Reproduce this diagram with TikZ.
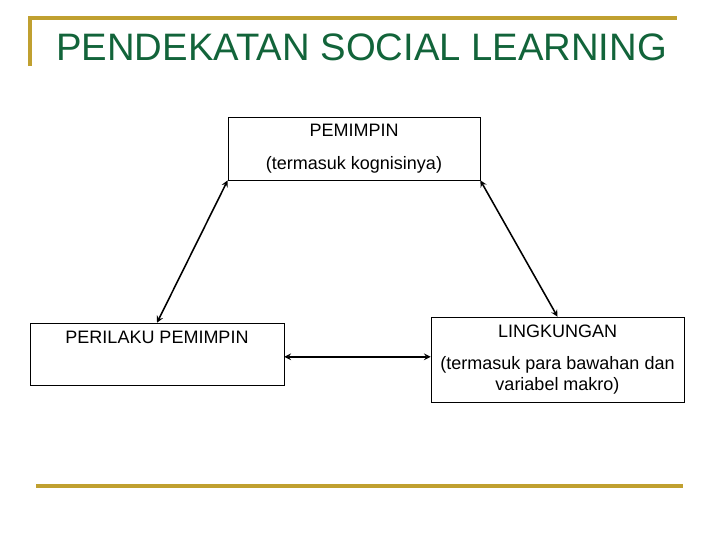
\documentclass[tikz,border=0pt]{standalone}
\usepackage{fontspec}
\setmainfont{Liberation Sans}
\usepackage{tikz}
\usetikzlibrary{arrows,positioning}

\definecolor{titlegreen}{RGB}{18,100,58}
\definecolor{rulegold}{RGB}{192,160,48}

\tikzset{box/.style={rectangle,draw,thin,align=center,inner sep=0pt,font=\fontsize{12.8}{14.6}\selectfont}}

\begin{document}
\begin{tikzpicture}[x=0.025cm,y=-0.025cm,>=stealth]
\useasboundingbox (0,0) rectangle (720,540);

% slide rules
\draw[rulegold,line width=2.2pt] (30,66) -- (30,18) -- (677,18);
\draw[rulegold,line width=2.2pt] (36,486) -- (683,486);

\node (title) [anchor=west,text=titlegreen,font=\fontsize{27.2}{30}\selectfont,inner sep=0pt] at (56,47) {PENDEKATAN SOCIAL LEARNING};

\node (lead) [box,minimum width=6.3cm,minimum height=1.575cm] at (354,148.5) {PEMIMPIN\\[9pt](termasuk kognisinya)};
\node (beh) [box,minimum width=6.35cm,minimum height=1.55cm] at (157,354) {PERILAKU PEMIMPIN\\[9pt]\mbox{}};
\node (env) [box,minimum width=6.325cm,minimum height=2.125cm] at (557.5,359.5) {LINGKUNGAN\\[8pt](termasuk para bawahan dan\\variabel makro)};

\draw[<->,line width=1.1pt] (lead.south west) -- (beh.north);
\draw[<->,line width=1.1pt] (lead.south east) -- (env.north);
\draw[<->,line width=1.1pt] ([yshift=-2pt]beh.east) -- ([yshift=-2pt]beh.east -| env.west);
\end{tikzpicture}
\end{document}
